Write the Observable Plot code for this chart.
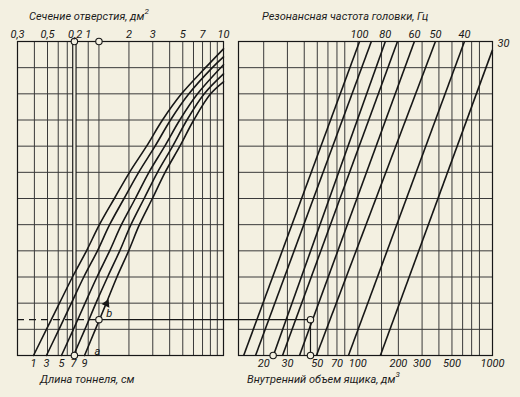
<!DOCTYPE html>
<html><head><meta charset="utf-8">
<script src="https://cdn.jsdelivr.net/npm/d3@7"></script>
<script src="https://cdn.jsdelivr.net/npm/@observablehq/plot@0.6"></script>
<style>
body{margin:0;background:#f3f0e1;}
#wrap{position:relative;width:520px;height:397px;background:#f3f0e1;overflow:hidden;font-family:Roboto,"DejaVu Sans",sans-serif;font-style:italic;color:#1c1c1c}
#wrap svg{position:absolute;left:0;top:0;overflow:visible}
.t{position:absolute;font-size:11px;white-space:nowrap;line-height:12px;height:12px}
.t sup{font-size:8px;line-height:0;vertical-align:baseline;position:relative;top:-6px}
</style></head><body><div id="wrap">
<div class="t" style="left:29px;top:11px">Сечение отверстия, дм<sup>2</sup></div>
<div class="t" style="left:262px;top:11px">Резонансная частота головки, Гц</div>
<div class="t" style="left:40px;top:374px">Длина тоннеля, см</div>
<div class="t" style="left:247px;top:374px">Внутренний объем ящика, дм<sup>3</sup></div>
</div>
<script>
// ---------- data ----------
const rows = [0,1,2,3,4,5,6,7,8,9,10,11,12];

// left panel: aperture section, dm^2 (log)
const sectionGrid = [0.3,0.4,0.5,0.6,0.7,1,1.2,2,3,4,5,6,7,8,9,10];
const sectionTicks = [0.3,0.5,0.8,1,2,3,5,7,10];
const sectionTickLabels = ["0,3","0,5","0,2","1","2","3","5","7","10"];

// tunnel length curves (cm): section value at each grid row
const tunnelLengths = [1,3,5,7,9];
const sectionT1 = [0.394,0.491,0.613,0.765,0.971,1.21,1.56,2.02,2.70,3.54,4.89,7.36,10.0];
const levelsT1  = [0,1,2,3,4,5,6,7,8,9,10,11,11.72];
const sectionT3 = [0.491,0.608,0.751,0.927,1.17,1.44,1.84,2.36,3.12,4.06,5.55,8.27,10.0];
const levelsT3  = [0,1,2,3,4,5,6,7,8,9,10,11,11.41];
const sectionT5 = [0.634,0.777,0.948,1.16,1.44,1.76,2.23,2.81,3.68,4.75,6.43,10.0];
const levelsT5  = [0,1,2,3,4,5,6,7,8,9,10,11.11];
const sectionT7 = [0.778,0.945,1.14,1.39,1.71,2.07,2.59,3.25,4.21,5.37,7.21,10.0];
const levelsT7  = [0,1,2,3,4,5,6,7,8,9,10,10.76];
const sectionT9 = [0.939,1.13,1.36,1.63,1.99,2.39,2.98,3.70,4.76,6.03,8.03,10.0];
const levelsT9  = [0,1,2,3,4,5,6,7,8,9,10,10.46];

// right panel: box volume, dm^3 (log)
const volumeGrid = [20,30,40,50,60,70,80,100,150,200,300,400,500,600,700,800,1000];
const volumeTicks = [20,30,50,70,100,200,300,500,1000];
const frequencies = [100,90,80,70,60,50,40,30];
const freqLabels  = ["100","","80","","60","50","40","30"];
const volBottom = [14.2,17.4,23.6,27.6,36.9,49.3,85.2,147];
const volTop    = [103,126,160,197,263,377,619,1000];
const levelTop  = [12,12,12,12,12,12,12,11.68];

// worked example
const exampleLevel = 1.37;
const exampleSection = 1.2;
const exampleTunnelSection = 0.79;
const exampleVolume = 44.5;
const exampleVolumeStart = 23.5;

// ---------- build ----------
const ink = "#171717", gridInk = "#3a3a3a", paper = "#f3f0e1";
const curveSets = [[sectionT1,levelsT1],[sectionT3,levelsT3],[sectionT5,levelsT5],[sectionT7,levelsT7],[sectionT9,levelsT9]];
const curveData = curveSets.flatMap(([xs,ys],k)=>xs.map((x,i)=>({len:tunnelLengths[k], x, y:ys[i]})));
const curveStarts = curveSets.map(([xs],k)=>({len:tunnelLengths[k], x:xs[0]}));
const secTickData = sectionTicks.map((x,i)=>({x, t:sectionTickLabels[i]}));
const freqTextData = frequencies.map((f,i)=>({x:volTop[i], y:levelTop[i], t:freqLabels[i]})).filter(d=>d.t);

const common = {width:520, height:397, marginTop:41, marginBottom:42,
  style:{background:"transparent", fontFamily:"Roboto, 'DejaVu Sans', sans-serif", fontStyle:"italic", fontSize:"11px", color:ink, overflow:"visible"}};

const left = Plot.plot({...common, marginLeft:17, marginRight:297,
  x:{type:"log", domain:[0.3,10], axis:null}, y:{domain:[0,12], axis:null},
  marks:[
    Plot.ruleX(sectionGrid,{stroke:gridInk, strokeWidth:1}),
    Plot.ruleY(rows,{stroke:gridInk, strokeWidth:1}),
    Plot.ruleX([exampleTunnelSection],{stroke:ink, strokeWidth:4.5}),
    Plot.ruleX([exampleTunnelSection],{stroke:paper, strokeWidth:2.2}),
    Plot.frame({stroke:ink, strokeWidth:1.2}),
    Plot.line(curveData,{x:"x", y:"y", z:"len", curve:"catmull-rom", stroke:ink, strokeWidth:1.6}),
    Plot.ruleY([exampleLevel],{x1:0.3, x2:exampleSection, stroke:ink, strokeWidth:1.2, strokeDasharray:"7,5"}),
    Plot.ruleY([exampleLevel],{x1:exampleSection, x2:12.9, stroke:ink, strokeWidth:1.2}),
    Plot.dot([{x:exampleTunnelSection,y:12},{x:exampleSection,y:12},{x:exampleTunnelSection,y:0},{x:exampleSection,y:exampleLevel}],
      {x:"x", y:"y", r:3.2, fill:paper, stroke:ink, strokeWidth:1.1}),
    Plot.dot([{x:1.365,y:1.98}],{x:"x", y:"y", symbol:"triangle", r:3.2, fill:ink, rotate:25}),
    Plot.text([{x:1.17,y:0.15,t:"a"},{x:1.43,y:1.62,t:"b"}],{x:"x", y:"y", text:"t", fontSize:11, textAnchor:"middle"}),
    Plot.text(secTickData,{x:"x", frameAnchor:"top", lineAnchor:"middle", text:"t", dy:-7, fontSize:11}),
    Plot.text(curveStarts,{x:"x", y:()=>0, lineAnchor:"middle", text:d=>String(d.len), dy:8, fontSize:11})
  ]});

const right = Plot.plot({...common, marginLeft:238, marginRight:28,
  x:{type:"log", domain:[13,1000], axis:null}, y:{domain:[0,12], axis:null},
  marks:[
    Plot.ruleX(volumeGrid,{stroke:gridInk, strokeWidth:1}),
    Plot.ruleY(rows,{stroke:gridInk, strokeWidth:1}),
    Plot.frame({stroke:ink, strokeWidth:1.2}),
    Plot.link(frequencies,{x1:(d,i)=>volBottom[i], y1:()=>0, x2:(d,i)=>volTop[i], y2:(d,i)=>levelTop[i], stroke:ink, strokeWidth:1.6}),
    Plot.ruleY([exampleLevel],{x1:13, x2:exampleVolume, stroke:ink, strokeWidth:1.2}),
    Plot.ruleX([exampleVolume],{y1:0, y2:exampleLevel, stroke:ink, strokeWidth:1.2}),
    Plot.dot([{x:exampleVolume,y:exampleLevel},{x:exampleVolume,y:0},{x:exampleVolumeStart,y:0}],
      {x:"x", y:"y", r:3.2, fill:paper, stroke:ink, strokeWidth:1.1}),
    Plot.text(freqTextData.filter(d=>d.y===12),{x:"x", y:"y", lineAnchor:"middle", text:"t", dy:-7, fontSize:11}),
    Plot.text(freqTextData.filter(d=>d.y<12),{x:"x", y:"y", lineAnchor:"middle", text:"t", dx:11, dy:-6, fontSize:11}),
    Plot.text(volumeTicks,{x:d=>d, frameAnchor:"bottom", lineAnchor:"middle", text:d=>String(d), dy:8, fontSize:11})
  ]});

const wrap = document.getElementById("wrap");
wrap.prepend(right);
wrap.prepend(left);
</script></body></html>
